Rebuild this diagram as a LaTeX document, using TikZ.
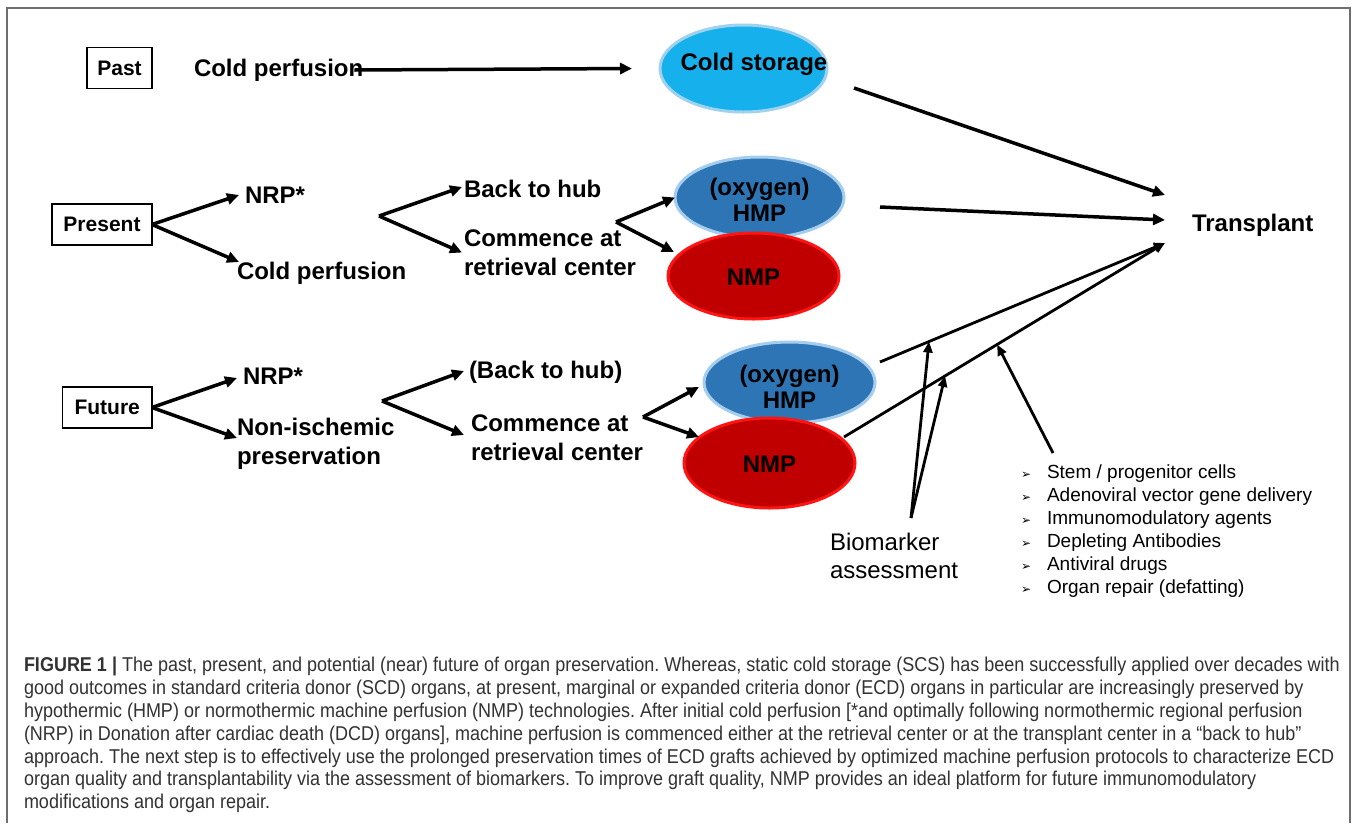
\documentclass[tikz,border=0pt]{standalone}
\usepackage{fontspec}
\setmainfont{Liberation Sans}
\newfontfamily\capfont[FakeStretch=0.9]{Liberation Sans}
\newfontfamily\symfont{DejaVu Sans}
\usetikzlibrary{arrows.meta,shapes.geometric,calc}
\definecolor{csblue}{RGB}{22,176,236}
\definecolor{csedge}{RGB}{160,210,238}
\definecolor{hmpblue}{RGB}{46,117,182}
\definecolor{hmpedge}{RGB}{165,205,238}
\definecolor{nmpred}{RGB}{192,0,0}
\definecolor{nmpedge}{RGB}{255,20,20}
\definecolor{capgray}{RGB}{50,50,50}
\definecolor{framegray}{RGB}{110,110,110}
\newcommand{\bul}{\makebox[26pt][l]{\raisebox{0.5pt}{\symfont\fontsize{12}{12}\selectfont ➢}}}
\frenchspacing
\begin{document}
\begin{tikzpicture}[x=1pt,y=-1pt,
  every node/.style={inner sep=0pt, outer sep=0pt},
  eralabel/.style={draw, line width=1.3pt, font=\fontsize{21}{25}\selectfont\bfseries, minimum height=41pt},
  lbl/.style={font=\fontsize{24}{29}\selectfont\bfseries, anchor=west, align=left},
  ovtxt/.style={font=\fontsize{24}{26}\selectfont\bfseries, align=center},
  oval/.style={ellipse, line width=3pt},
  hmpoval/.style={oval, fill=hmpblue, draw=hmpedge},
  nmpoval/.style={oval, fill=nmpred, draw=nmpedge},
  arr/.style={line width=3.5pt, -{Triangle[length=12pt,width=11pt]}},
  thinarr/.style={line width=2.8pt, -{Triangle[length=11pt,width=9pt]}},
  capline/.style={anchor=base west, font=\capfont\fontsize{20}{22}\selectfont, text=capgray},
]
\useasboundingbox (0,0) rectangle (1357,823);
\fill[white] (0,0) rectangle (1357,823);
\draw[framegray, line width=1.5pt] (7,823) -- (7,8) -- (1350,8) -- (1350,823);

% ---------- Past ----------
\node[eralabel, minimum width=65pt] (past) at (119.5,68) {Past};
\node[lbl] (cp1) at (194,70) {Cold perfusion};
\node[oval, fill=csblue, draw=csedge, minimum width=167pt, minimum height=87pt] (cs) at (743.5,68.5) {};
\node[ovtxt] (cst) at (754,64) {Cold storage};
\node[lbl] (tr) at (1192,225) {Transplant};
\draw[arr] ([xshift=-9pt]cp1.east) -- ([xshift=-28pt]cs.west);
\draw[arr] ($(cs.east)+(27,19.5)$) -- ($(tr.west)+(-27,-30)$);

% ---------- Present ----------
\node[eralabel, minimum width=100pt] (pres) at (102,224.5) {Present};
\node[lbl] (nrp1) at (245,195) {NRP*};
\node[lbl] (cpp) at (237,273) {Cold perfusion};
\draw[arr] (pres.east) -- ($(nrp1.west)+(-6,0)$);
\draw[arr] (pres.east) -- ($(cpp.west)+(2,-11)$);
\coordinate (j1) at (379,216);
\node[lbl] (bh1) at (464,189) {Back to hub};
\node[lbl] (cm1) at (464,252.5) {Commence at\\retrieval center};
\draw[arr] (j1) -- ($(bh1.west)+(-2,-2)$);
\draw[arr] (j1) -- ($(cm1.west)+(-2,0)$);
\coordinate (j2) at (616,222);
\node[hmpoval, minimum width=169pt, minimum height=81pt] (hmp1) at (759.5,197.5) {};
\node[nmpoval, minimum width=171pt, minimum height=86pt] (nmp1) at (753.5,276) {};
\node[ovtxt] (hmp1t) at (759.5,200) {(oxygen)\\HMP};
\node[ovtxt] (nmp1t) at (753.5,277) {NMP};
\draw[arr] (j2) -- (hmp1.west);
\draw[arr] (j2) -- ($(nmp1.center)+(-79.5,-24)$);
\draw[arr] ($(hmp1.east)+(36,9.5)$) -- ($(tr.west)+(-27,-5)$);

% ---------- Future ----------
\node[eralabel, minimum width=89.5pt] (fut) at (107.25,407.5) {Future};
\node[lbl] (nrp2) at (243,376) {NRP*};
\node[lbl] (nip) at (237,444) {Non-ischemic\\preservation};
\draw[arr] (fut.east) -- ($(nrp2.west)+(-6,2)$);
\draw[arr] (fut.east) -- ($(nip.west)+(0,-6)$);
\coordinate (j3) at (382,401);
\node[lbl] (bh2) at (469,372) {(Back to hub)};
\node[lbl] (cm2) at (471,437.5) {Commence at\\retrieval center};
\draw[arr] (j3) -- ($(bh2.west)+(-5,-1)$);
\draw[arr] (j3) -- ($(cm2.west)+(-7,-2.5)$);
\coordinate (j4) at (643,417);
\node[hmpoval, minimum width=171pt, minimum height=81pt] (hmp2) at (789.5,382.5) {};
\node[nmpoval, minimum width=171pt, minimum height=90pt] (nmp2) at (769.5,463) {};
\node[ovtxt] (hmp2t) at (789.5,386.5) {(oxygen)\\HMP};
\node[ovtxt] (nmp2t) at (769.5,464) {NMP};
\draw[arr] (j4) -- ($(hmp2.west)+(-5,4.5)$);
\draw[arr] (j4) -- ($(nmp2.center)+(-70.5,-26)$);
\draw[thinarr] ($(hmp2.east)+(5,-20.5)$) -- coordinate[pos=0.172] (m1) ($(tr.west)+(-27,18)$);
\draw[thinarr] ($(nmp2.east)+(-11,-26)$) -- coordinate[pos=0.315] (m2) coordinate[pos=0.477] (m3) ($(tr.west)+(-27,18)$);

% ---------- Biomarker and list ----------
\node[anchor=west, align=left, font=\fontsize{24}{28}\selectfont] (bm) at (830,556) {Biomarker\\assessment};
\coordinate (bmo) at (911,518);
\draw[thinarr] (bmo) -- (m1);
\draw[thinarr] (bmo) -- (m2);
\node[anchor=west, align=left, font=\fontsize{19}{23}\selectfont] (lst) at (1021,531.5)
  {\bul Stem / progenitor cells\\
   \bul Adenoviral vector gene delivery\\
   \bul Immunomodulatory agents\\
   \bul Depleting Antibodies\\
   \bul Antiviral drugs\\
   \bul Organ repair (defatting)};
\coordinate (lso) at (1053,453);
\draw[thinarr] (lso) -- (m3);

% ---------- Caption ----------
\node[capline] (cap1) at (24,671) {{\bfseries FIGURE 1 |} The past, present, and potential (near) future of organ preservation. Whereas, static cold storage (SCS) has been successfully applied over decades with};
\node[capline] (cap2) at (24,694) {good outcomes in standard criteria donor (SCD) organs, at present, marginal or expanded criteria donor (ECD) organs in particular are increasingly preserved by};
\node[capline] (cap3) at (24,717) {hypothermic (HMP) or normothermic machine perfusion (NMP) technologies. After initial cold perfusion [*and optimally following normothermic regional perfusion};
\node[capline] (cap4) at (24,740) {(NRP) in Donation after cardiac death (DCD) organs], machine perfusion is commenced either at the retrieval center or at the transplant center in a “back to hub”};
\node[capline] (cap5) at (24,763) {approach. The next step is to effectively use the prolonged preservation times of ECD grafts achieved by optimized machine perfusion protocols to characterize ECD};
\node[capline] (cap6) at (24,785) {organ quality and transplantability via the assessment of biomarkers. To improve graft quality, NMP provides an ideal platform for future immunomodulatory};
\node[capline] (cap7) at (24,808) {modifications and organ repair.};
\end{tikzpicture}
\end{document}
